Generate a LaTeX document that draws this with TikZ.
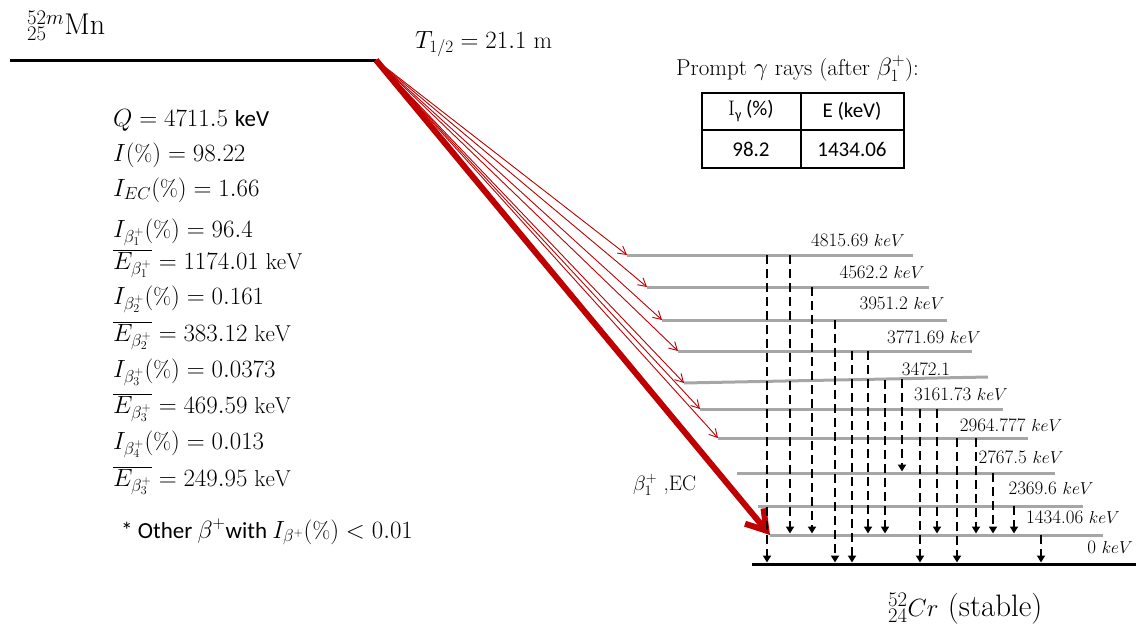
\documentclass[tikz,border=0pt]{standalone}
\usepackage{fontspec}
\newfontfamily\calib{Carlito}
\usetikzlibrary{arrows.meta}
\definecolor{dred}{HTML}{C00000}
\definecolor{levgray}{HTML}{A6A6A6}
\begin{document}
\begin{tikzpicture}[x=1pt,y=-1pt,
  lev/.style={line width=3pt, draw=levgray},
  ground/.style={line width=3pt, draw=black},
  gam/.style={line width=2.4pt, dash pattern=on 9pt off 5pt, -{Triangle[length=7pt,width=8pt]}, shorten >=1.5pt},
  thinarr/.style={draw=dred, line width=0.9pt, -{Straight Barb[length=8pt,width=9pt]}},
  thickarr/.style={draw=dred, line width=6pt, -{Straight Barb[length=19pt,width=24pt]}},
  elab/.style={font=\fontsize{19}{21}\selectfont, anchor=base, inner sep=0pt},
  txt/.style={font=\fontsize{23}{26}\selectfont, anchor=base west, inner sep=0pt},
  cell/.style={font=\calib\fontsize{21}{24}\selectfont, inner sep=0pt}]
\useasboundingbox (0,0) rectangle (1141,632);

% parent level
\coordinate (P-l) at (10,60);
\coordinate (P-r) at (376,60);
\draw[ground] (P-l) -- (P-r);
\node[anchor=base west, inner sep=0pt, font=\fontsize{30}{34}\selectfont] (mn) at (27,34) {$^{52m}_{25}$Mn};
\node[anchor=base west, inner sep=0pt, font=\fontsize{24}{28}\selectfont] (thalf) at (415,48) {$T_{1/2} = 21.1$ m};

% left data block
\node[txt] (q)  at (113,126) {$Q = 4711.5$ {\calib keV}};
\node[txt] (i1) at (113,161) {$I(\%) = 98.22$};
\node[txt] (i2) at (113,196) {$I_{EC}(\%) = 1.66$};
\node[txt] (i3) at (113,237) {$I_{\beta_1^+}(\%) = 96.4$};
\node[txt] (e1) at (113,269) {$\overline{E_{\beta_1^+}} = 1174.01\ \mathrm{keV}$};
\node[txt] (i4) at (113,304) {$I_{\beta_2^+}(\%) = 0.161$};
\node[txt] (e2) at (113,341) {$\overline{E_{\beta_2^+}} = 383.12\ \mathrm{keV}$};
\node[txt] (i5) at (113,377) {$I_{\beta_3^+}(\%) = 0.0373$};
\node[txt] (e3) at (113,413) {$\overline{E_{\beta_3^+}} = 469.59\ \mathrm{keV}$};
\node[txt] (i6) at (113,449) {$I_{\beta_4^+}(\%) = 0.013$};
\node[txt] (e4) at (113,486) {$\overline{E_{\beta_3^+}} = 249.95\ \mathrm{keV}$};
\node[txt] (oth) at (121,538) {{\calib * Other }$\beta^+${\calib with }$I_{\beta^+}(\%) < 0.01$};

% prompt gamma table
\node[anchor=base west, inner sep=0pt, font=\fontsize{23}{26}\selectfont] (ptitle) at (676,75) {Prompt $\gamma$ rays (after $\beta_1^+$):};
\coordinate (T-nw) at (702,93);
\coordinate (T-se) at (904,168);
\draw[line width=1.1pt] (T-nw) rectangle (T-se);
\draw[line width=1.1pt] (801,0 |- T-nw) -- (801,0 |- T-se);
\draw[line width=1.1pt] (T-nw |- 0,130) -- (T-se |- 0,130);
\node[cell] (h1) at (751,111) {{\rmfamily I}\raisebox{-0.35ex}{\fontsize{14}{16}\selectfont γ} (\%)};
\node[cell] (h2) at (852,111) {E (keV)};
\node[cell] (c1) at (751,149) {98.2};
\node[cell] (c2) at (852,149) {1434.06};

% daughter levels
\coordinate (A-l) at (627,255);  \coordinate (A-r) at (913,255);
\coordinate (B-l) at (647,287);  \coordinate (B-r) at (929,287);
\coordinate (C-l) at (662,320);  \coordinate (C-r) at (947,320);
\coordinate (D-l) at (678,351);  \coordinate (D-r) at (972,351);
\coordinate (E-l) at (684,383);  \coordinate (E-r) at (988,377);
\coordinate (F-l) at (700,409);  \coordinate (F-r) at (1003,409);
\coordinate (G-l) at (718,438);  \coordinate (G-r) at (1028,438);
\coordinate (H-l) at (737,473);  \coordinate (H-r) at (1055,473);
\coordinate (I-l) at (758,506);  \coordinate (I-r) at (1083,506);
\coordinate (J-l) at (770,535);  \coordinate (J-r) at (1103,535);
\coordinate (K-l) at (752,564);  \coordinate (K-r) at (1136,564);
\foreach \L in {A,B,C,D,E,F,G,H,I,J} \draw[lev] (\L-l) -- (\L-r);
\draw[ground] (K-l) -- (K-r);

\node[elab] (lA) at (858,246) {4815.69 $keV$};
\node[elab] (lB) at (882,278) {4562.2 $keV$};
\node[elab] (lC) at (902,309) {3951.2 $keV$};
\node[elab] (lD) at (934,343) {3771.69 $keV$};
\node[elab] (lE) at (926,375) {3472.1};
\node[elab] (lF) at (961,400) {3161.73 $keV$};
\node[elab] (lG) at (1011,431) {2964.777 $keV$};
\node[elab] (lH) at (1021,463) {2767.5 $keV$};
\node[elab] (lI) at (1051,494) {2369.6 $keV$};
\node[elab] (lJ) at (1073,523) {1434.06 $keV$};
\node[elab] (lK) at (1110,553) {0 $keV$};

% beta feeding arrows
\foreach \L in {A,B,C,D,E,F,G} \draw[thinarr] (P-r) -- (\L-l);
\draw[thickarr] (P-r) -- (J-l);
\node[anchor=base west, inner sep=0pt, font=\fontsize{21}{24}\selectfont] (bec) at (633,490) {$\beta_1^+$\ ,EC};

% gamma transitions
\draw[gam] (767,0 |- A-l) -- (767,0 |- K-l);
\draw[gam] (790,0 |- A-l) -- (790,0 |- J-l);
\draw[gam] (812,0 |- B-l) -- (812,0 |- J-l);
\draw[gam] (835,0 |- C-l) -- (835,0 |- K-l);
\draw[gam] (852,0 |- D-l) -- (852,0 |- K-l);
\draw[gam] (868,0 |- D-l) -- (868,0 |- J-l);
\draw[gam] (885,0 |- 0,380) -- (885,0 |- J-l);
\draw[gam] (902,0 |- 0,379) -- (902,0 |- H-l);
\draw[gam] (920,0 |- F-l) -- (920,0 |- K-l);
\draw[gam] (937,0 |- F-l) -- (937,0 |- J-l);
\draw[gam] (957,0 |- G-l) -- (957,0 |- K-l);
\draw[gam] (976,0 |- G-l) -- (976,0 |- J-l);
\draw[gam] (993,0 |- H-l) -- (993,0 |- J-l);
\draw[gam] (1014,0 |- I-l) -- (1014,0 |- J-l);
\draw[gam] (1041,0 |- J-l) -- (1041,0 |- K-l);

\node[anchor=base west, inner sep=0pt, font=\fontsize{31}{34}\selectfont] (cr) at (888,616) {$^{52}_{24}Cr$ (stable)};
\end{tikzpicture}
\end{document}
